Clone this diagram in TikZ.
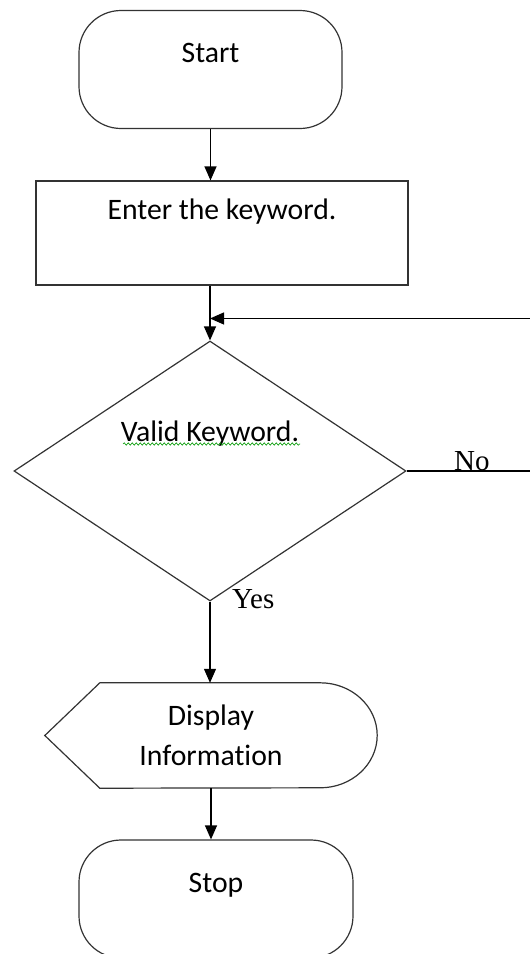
\documentclass[tikz,border=0pt]{standalone}
\usepackage{fontspec}
\setmainfont{Carlito}[Ligatures=NoCommon]
\newfontfamily\seriflabel{Liberation Serif}
\usetikzlibrary{shapes.geometric,arrows.meta,calc,decorations.pathmorphing}
\begin{document}
\begin{tikzpicture}[x=1pt, y=-1pt,
    every node/.style={font=\fontsize{29.7}{40}\selectfont},
    shapeline/.style={draw=black!80, line width=1.2pt},
    terminal/.style={shapeline, rectangle, rounded corners=42pt, minimum width=#1, minimum height=118pt, inner sep=0pt},
    flow/.style={draw=black, line width=1.2pt, -{Triangle[length=14pt,width=12pt]}},
    yesno/.style={font=\seriflabel\fontsize{29}{35}\selectfont, inner sep=0pt},
    spell/.style={draw=green!60!black, line width=0.6pt, decorate, decoration={snake, amplitude=1.2pt, segment length=4pt}}]
      \useasboundingbox (0,0) rectangle (530,954);
      \clip (0,0) rectangle (530,954);
      \node[terminal=263pt, text depth=34pt] (Start) at (210.5,69.5) {Start};
      \node[shapeline, rectangle, minimum width=372pt, minimum height=104pt, text depth=48pt] (Enter) at (222,233) {Enter the keyword.};
      \node[shapeline, diamond, aspect=1.5, minimum width=392pt, minimum height=260pt, inner sep=0pt, text depth=80pt] (Valid) at (210,471) {Valid Keyword.};
      \node[minimum width=332pt, minimum height=105pt, inner sep=0pt, align=center] (Disp) at (211,735.5) {Display\\Information};
      \draw[shapeline] ([xshift=55pt]Disp.north west) -- ([xshift=-57pt]Disp.north east) arc[start angle=90, end angle=-90, x radius=57pt, y radius=52.5pt] -- ([xshift=55pt]Disp.south west) -- (Disp.west) -- cycle;
      \node[terminal=274pt, text depth=33pt] (Stop) at (216,899) {Stop};
      \draw[spell] ([shift={(-87pt,27pt)}]Valid.center) -- ([shift={(90pt,27pt)}]Valid.center);
      \coordinate (back) at ($(Valid.east)+(139,0)$);
      \coordinate (merge) at ($(Valid.north |- Enter.south)!0.6!(Valid.north)$);
      \draw[flow] (Start.south) -- (Start.south |- Enter.north);
      \draw[flow] (Valid.north |- Enter.south) -- (Valid.north);
      \draw[flow] (Valid.east) -- node[pos=0.47, above, yesno] (no) {No} (back) |- (merge);
      \node[yesno, anchor=base west] (yes) at ([xshift=22pt,yshift=-7pt]Valid.south) {Yes};
      \draw[flow] (Valid.south) -- (Valid.south |- Disp.north);
      \draw[flow] (Disp.south) -- (Disp.south |- Stop.north);
\end{tikzpicture}
\end{document}
